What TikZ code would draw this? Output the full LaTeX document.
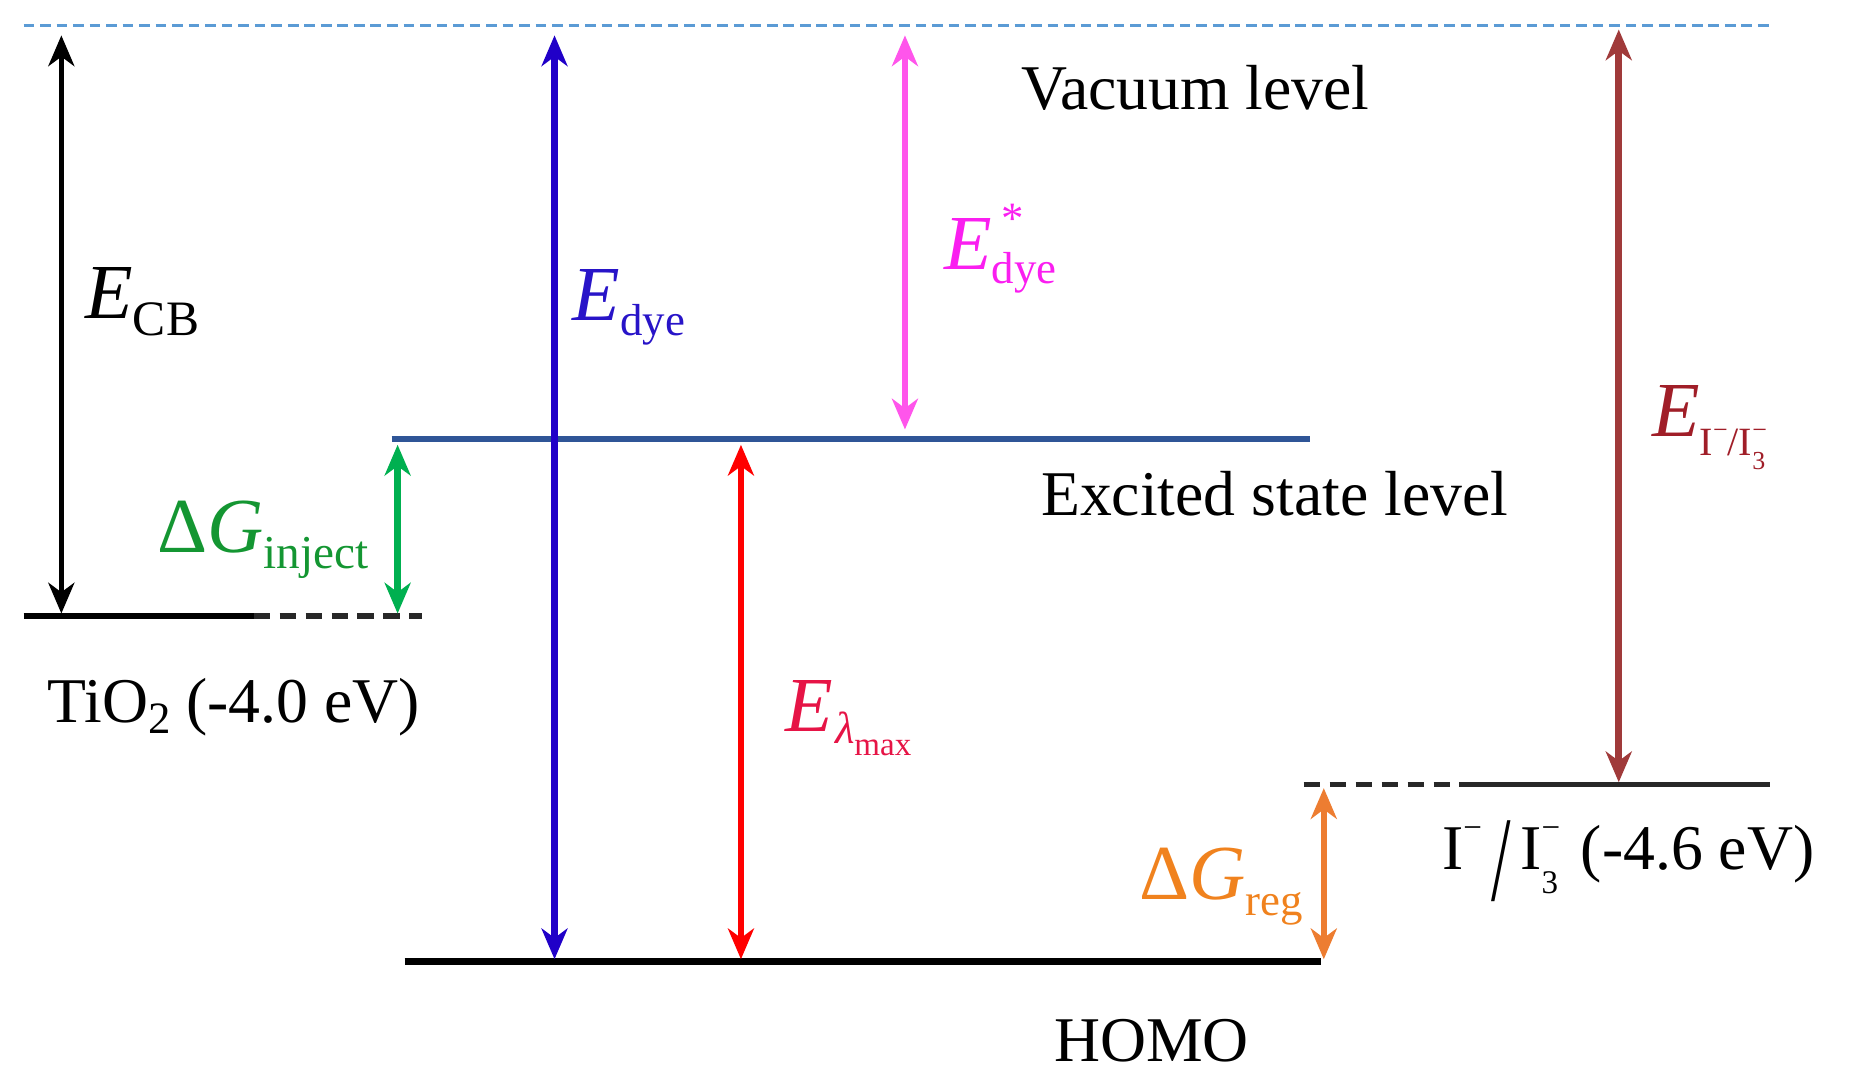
\documentclass[tikz,border=0pt]{standalone}
\usepackage{fontspec}
\usepackage{graphicx}
\setmainfont{Liberation Serif}
\usetikzlibrary{arrows.meta}
\definecolor{vaccol}{RGB}{91,155,213}
\definecolor{exccol}{RGB}{47,85,151}
\definecolor{bluearr}{RGB}{32,0,200}
\definecolor{pinkarr}{RGB}{255,85,235}
\definecolor{redarr}{RGB}{255,0,0}
\definecolor{greenarr}{RGB}{0,176,80}
\definecolor{orangearr}{RGB}{237,125,49}
\definecolor{brownarr}{RGB}{160,58,58}
\definecolor{greenlab}{RGB}{20,150,50}
\definecolor{bluelab}{RGB}{40,20,200}
\definecolor{pinklab}{RGB}{250,30,240}
\definecolor{redlab}{RGB}{230,20,70}
\definecolor{orangelab}{RGB}{240,130,30}
\definecolor{brownlab}{RGB}{160,30,40}
\definecolor{lvlgray}{RGB}{40,40,40}
\newcommand{\subsz}[2]{\raisebox{#1}{\fontsize{19}{20}\selectfont #2}}
\tikzset{
  lvl/.style={line width=2.3pt},
  dlvl/.style={line width=2.3pt, dash pattern=on 7pt off 4pt},
  arr/.style={line width=2.8pt, {Stealth[length=13pt,width=11pt,inset=4pt]}-{Stealth[length=13pt,width=11pt,inset=4pt]}},
  txt/.style={inner sep=0pt, anchor=base west, font=\fontsize{27}{30}\selectfont},
  lab/.style={inner sep=0pt, anchor=base west, font=\fontsize{33}{35}\selectfont},
}
\begin{document}
\begin{tikzpicture}[x=0.5pt,y=-0.5pt]
\useasboundingbox (0,0) rectangle (1568,920);
% coordinates
\coordinate (vacL) at (20,22);
\coordinate (vacR) at (1500,22);
\coordinate (tiL) at (20,522);
\coordinate (tiM) at (215,522);
\coordinate (tiR) at (358,522);
\coordinate (exL) at (332,372);
\coordinate (exR) at (1110,372);
\coordinate (hoL) at (343,815);
\coordinate (hoR) at (1120,815);
\coordinate (ioL) at (1105,665);
\coordinate (ioM) at (1240,665);
\coordinate (ioR) at (1500,665);
\coordinate (cbT) at (52,30);
\coordinate (cbB) at (52,520);
\coordinate (gT) at (337,377);
\coordinate (gB) at (337,520);
\coordinate (bT) at (470,30);
\coordinate (bB) at (470,813);
\coordinate (rT) at (628,377);
\coordinate (rB) at (628,813);
\coordinate (pT) at (767,30);
\coordinate (pB) at (767,364);
\coordinate (oT) at (1122,668);
\coordinate (oB) at (1122,813);
\coordinate (brT) at (1372,25);
\coordinate (brB) at (1372,663);
% levels
\draw[line width=1.3pt, vaccol, dash pattern=on 4.5pt off 2.5pt] (vacL) -- (vacR);
\draw[lvl] (tiL) -- (tiM);
\draw[dlvl, lvlgray] (tiM) -- (tiR);
\draw[lvl, exccol, line width=2.6pt] (exL) -- (exR);
\draw[lvl, line width=3pt] (hoL) -- (hoR);
\draw[dlvl, lvlgray] (ioL) -- (ioM);
\draw[lvl, lvlgray] (ioM) -- (ioR);
% arrows
\draw[arr, black, line width=2.4pt] (cbT) -- (cbB);
\draw[arr, greenarr] (gT) -- (gB);
\draw[arr, bluearr] (bT) -- (bB);
\draw[arr, redarr] (rT) -- (rB);
\draw[arr, pinkarr] (pT) -- (pB);
\draw[arr, orangearr] (oT) -- (oB);
\draw[arr, brownarr] (brT) -- (brB);
% labels
\node[lab] (lcb) at (72,270) {\textit{E}\raisebox{-7pt}{\fontsize{21}{22}\selectfont CB}};
\node[lab, bluelab] (ldye) at (485,272) {\textit{E}\subsz{-6pt}{dye}};
\node[lab, pinklab] (lstar) at (800,228) {\textit{E}\rlap{\kern4pt\raisebox{15pt}{\fontsize{19}{20}\selectfont *}}\subsz{-6pt}{dye}};
\node[lab, greenlab] (linj) at (133,468) {Δ\textit{G}\raisebox{-7pt}{\fontsize{20}{21}\selectfont inject}};
\node[lab, redlab] (llam) at (665,620) {\textit{E}\kern1pt\raisebox{-5pt}{\fontsize{19}{20}\selectfont\textit{λ}}\raisebox{-10pt}{\fontsize{14}{15}\selectfont max}};
\node[lab, orangelab] (lreg) at (965,762) {Δ\textit{G}\subsz{-7pt}{reg}};
\node[lab, brownlab] (lio) at (1400,370) {\textit{E}\raisebox{-8pt}{\fontsize{17}{17}\selectfont I\raisebox{7pt}{\fontsize{11}{11}\selectfont −}/I\rlap{\raisebox{-6pt}{\fontsize{11}{11}\selectfont 3}}\raisebox{7pt}{\fontsize{11}{11}\selectfont −}}};
\node[txt] (tvac) at (865,93) {Vacuum level};
\node[txt] (texc) at (882,437) {Excited state level};
\node[txt] (ttio) at (40,612) {TiO\raisebox{-5pt}{\fontsize{19}{20}\selectfont 2} (-4.0 eV)};
\node[txt] (thomo) at (893,900) {HOMO};
\node[txt] (tiod) at (1222,737) {I\raisebox{13pt}{\fontsize{14}{14}\selectfont −}\kern4pt\raisebox{-13pt}{\scalebox{1.1}[1.9]{/}}\kern4pt I\rlap{\raisebox{-10pt}{\fontsize{14}{14}\selectfont 3}}\raisebox{13pt}{\fontsize{14}{14}\selectfont −}\kern2pt{} (-4.6 eV)};
\end{tikzpicture}
\end{document}
